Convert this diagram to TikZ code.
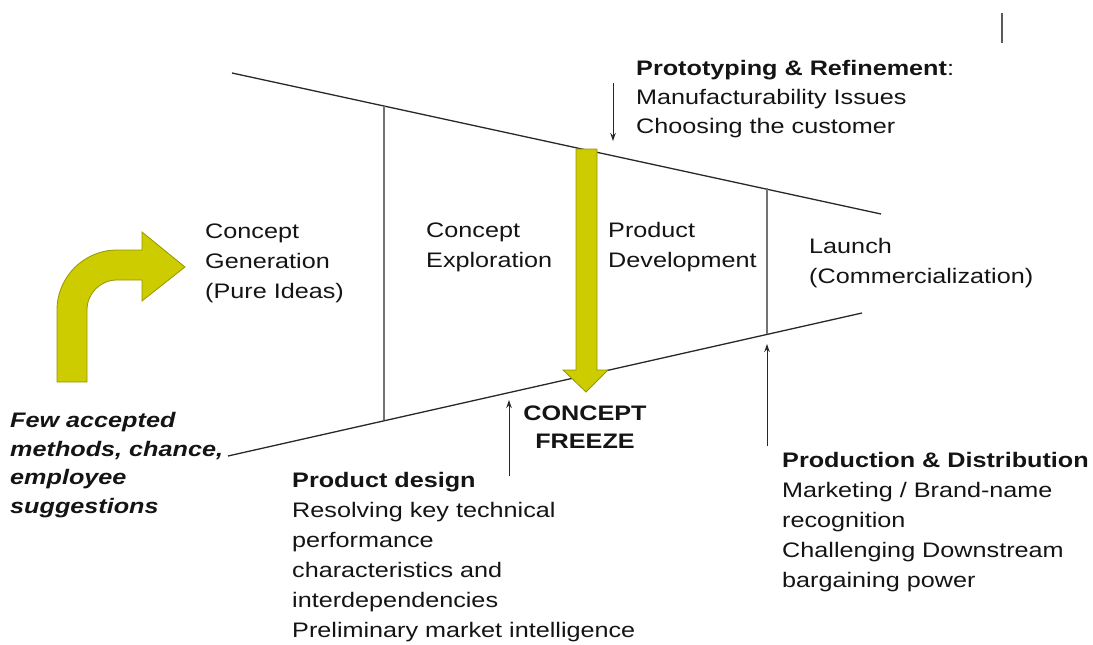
\documentclass[tikz,border=0pt]{standalone}
\usepackage{fontspec}
\setmainfont{Liberation Sans}[FakeStretch=1.2]
\usepackage{xcolor}
\usetikzlibrary{arrows.meta}

\definecolor{olivefill}{RGB}{204,204,0}
\definecolor{olivedraw}{RGB}{150,150,0}
\definecolor{funnelgray}{RGB}{40,40,40}
\definecolor{walltextgray}{RGB}{20,20,20}

\begin{document}
\begin{tikzpicture}[x=1pt,y=-1pt,
	lbl/.style={anchor=base west, inner sep=0pt, align=left, text=walltextgray,
		font=\fontsize{21}{30}\selectfont},
	funnel/.style={line width=1.3pt, draw=funnelgray},
	stage/.style={line width=1.1pt, draw=gray!90!black},
	pointer/.style={-{Stealth[length=8pt,width=5.5pt]}, line width=1pt, draw=funnelgray},
	bigarrow/.style={fill=olivefill, draw=olivedraw, line width=0.8pt}]
\useasboundingbox (0,0) rectangle (1093,645);

% funnel outline
\coordinate (tl) at (232,73);
\coordinate (tr) at (881,214);
\coordinate (bl) at (228,456);
\coordinate (br) at (862,313);
\draw[funnel] (tl) -- (tr);
\draw[funnel] (bl) -- (br);

% stage borders
\coordinate (s1t) at (384,106);
\coordinate (s1b) at (384,420);
\coordinate (s2t) at (767,188);
\coordinate (s2b) at (767,334);
\draw[stage] (s1t) -- (s1b);
\draw[stage] (s2t) -- (s2b);

% small mark in the corner
\coordinate (mt) at (1002,13);
\coordinate (mb) at (1002,43);
\draw[stage, line width=1.8pt, draw=gray!70!black] (mt) -- (mb);

% curved input arrow
\draw[bigarrow] (57,382) -- (57,310) .. controls (57,277) and (84,250) .. (117,250)
	-- (142,250) -- (142,232) -- (185,267) -- (142,301) -- (142,280) -- (117,280)
	.. controls (100.4,280) and (87,293.4) .. (87,310) -- (87,382) -- cycle;

% concept freeze arrow
\draw[bigarrow] (576,149) -- (597,149) -- (597,370) -- (608,370) -- (586,392)
	-- (563,370) -- (576,370) -- cycle;

% thin arrows
\coordinate (pa) at (613,83);
\coordinate (pb) at (613,141);
\coordinate (da) at (509,476);
\coordinate (db) at (509,400);
\coordinate (ma) at (767,446);
\coordinate (mb2) at (767,344);
\draw[pointer] (pa) -- (pb);
\draw[pointer] (da) -- (db);
\draw[pointer] (ma) -- (mb2);

% labels (anchored at the baseline of the last line)
\node[lbl, font=\fontsize{21}{29}\selectfont] (proto) at (636,133)
	{\textbf{Prototyping \& Refinement}:\\Manufacturability Issues\\Choosing the customer};
\node[lbl] (gen) at (205,298) {Concept\\Generation\\(Pure Ideas)};
\node[lbl] (expl) at (426,267) {Concept\\Exploration};
\node[lbl] (dev) at (608,267) {Product\\Development};
\node[lbl] (launch) at (809,283) {Launch\\(Commercialization)};
\node[lbl, font=\fontsize{21}{28.5}\selectfont\bfseries\itshape] (few) at (10,513)
	{Few accepted\\methods, chance,\\employee\\suggestions};
\node[lbl, anchor=base, align=center, font=\fontsize{21}{28}\selectfont\bfseries] (freeze) at (585,448)
	{CONCEPT\\FREEZE};
\node[lbl] (design) at (292,637)
	{\textbf{Product design}\\Resolving key technical\\performance\\characteristics and\\interdependencies\\Preliminary market intelligence};
\node[lbl] (prod) at (782,587)
	{\textbf{Production \& Distribution}\\Marketing / Brand-name\\recognition\\Challenging Downstream\\bargaining power};

\end{tikzpicture}
\end{document}
